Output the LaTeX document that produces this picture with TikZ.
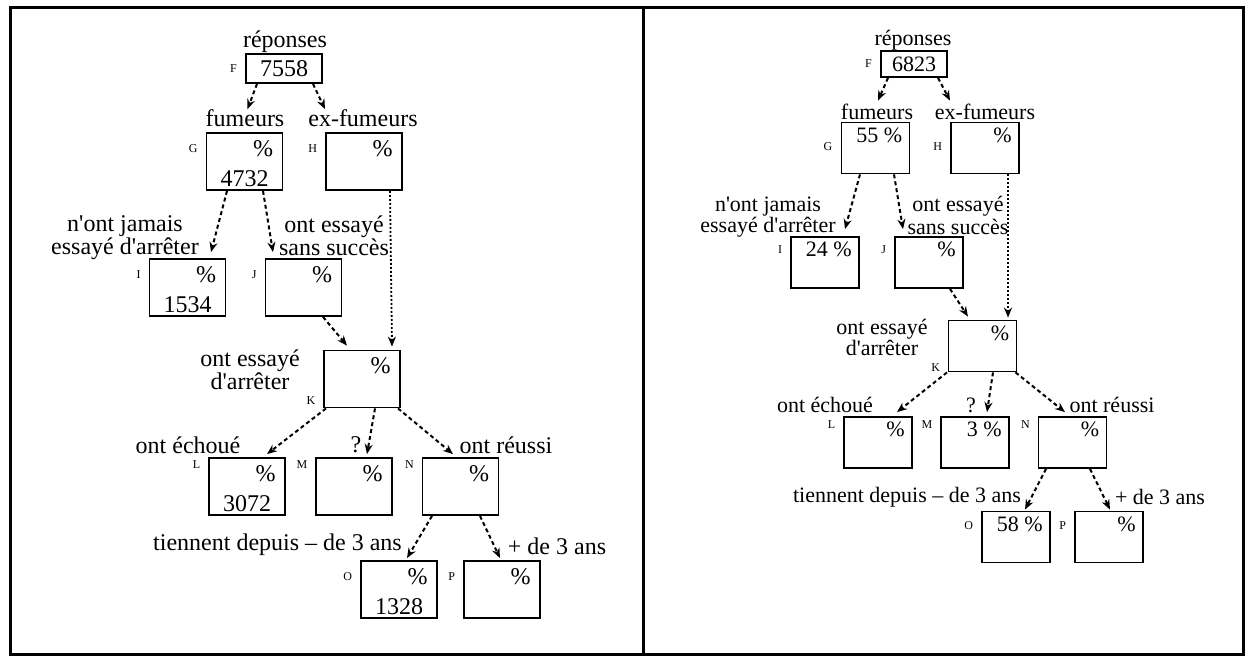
\documentclass[tikz,border=0pt]{standalone}
\usepackage{fontspec}
\setmainfont{Liberation Serif}[Ligatures=TeXOff]
\usetikzlibrary{arrows.meta,calc,positioning}
\tikzset{
  cell/.style={draw,line width=1.8pt,minimum width=76pt,minimum height=57pt,inner sep=0pt},
  rcell/.style={cell,minimum width=68pt,minimum height=51pt},
  topbox/.style={cell,minimum height=29pt},
  rtopbox/.style={cell,minimum width=66pt,minimum height=26pt},
  tag/.style={font=\fontsize{12}{12}\selectfont,inner sep=1pt},
  pc/.style={inner sep=0pt},
  arr/.style={dash pattern=on 4pt off 3pt,line width=2pt,-{Stealth[length=10pt,width=8pt]}},
  farr/.style={arr,dash pattern=on 2pt off 2pt,line width=1.8pt},
}
\begin{document}
\begin{tikzpicture}[x=1pt,y=-1pt,font=\fontsize{24}{23}\selectfont]
\useasboundingbox (0,0) rectangle (1247,656);
\draw[line width=3pt] (10,7) rectangle (1243,654) (643,7) -- (643,654);

% left panel
\node[topbox,label={[tag,label distance=7pt]180:F}] (lF) at (284,68.5) {7558};
\foreach \n/\x/\y/\a/\t/\b in {G/244.5/161.5/170/\%/4732,H/364/161.5/170/\%/{},
    I/187.5/287.5/170/\%/1534,J/303.5/287.5/170/\%/{},K/362/379/200/\%/{},
    L/247/486.5/160/\%/3072,M/354/486.5/160/\%/{},N/460.5/486.5/160/\%/{},
    O/399/589.5/170/\%/1328,P/502/589.5/170/\%/{}}{
  \node[cell,label={[tag,label distance=7pt]\a:\n}] (l\n) at (\x,\y) {};
  \node[pc,anchor=north east] (l\n-t) at ([shift={(-10,8)}]l\n.north east) {\t};
  \node (l\n-b) at ([shift={(0,-12)}]l\n.south) {\b};
}
\node (lRep) at (285,42) {réponses};
\node (lFum) at (245,118) {fumeurs};
\node (lExf) at (363,118) {ex-fumeurs};
\node[align=center] (lNever) at (125,238) {n'ont jamais\\essayé d'arrêter};
\node[align=center] (lTried) at (334,236) {ont essayé\\sans succès};
\node[align=center] (lStop) at (250,370) {ont essayé\\d'arrêter};
\node (lFail) at (188,445) {ont échoué};
\node (lQ) at (356,445) {?};
\node (lSucc) at (506,445) {ont réussi};
\node (lLess) at (277.5,545) {tiennent depuis – de 3 ans};
\node (lMore) at (557,546) {+ de 3 ans};

\draw[arr] ([shift={(-27,0)}]lF.south) -- ([shift={(3,-23)}]lG.north);
\draw[arr] ([shift={(29,0)}]lF.south) -- ([shift={(-39,-23)}]lH.north);
\draw[arr] ([shift={(-17.5,0)}]lG.south) -- ([shift={(23.5,-6)}]lI.north);
\draw[arr] ([shift={(18.5,0)}]lG.south) -- ([shift={(-30.5,-6)}]lJ.north);
\draw[farr] ([shift={(26,0)}]lH.south) -- ([shift={(30,-3)}]lK.north);
\draw[arr] ([shift={(19.5,0)}]lJ.south) -- ([shift={(-15,-4)}]lK.north);
\draw[arr] ([shift={(-36,0)}]lK.south) -- ([shift={(20,-3)}]lL.north);
\draw[arr] ([shift={(13,0)}]lK.south) -- ([shift={(13,-3)}]lM.north);
\draw[arr] ([shift={(36,0)}]lK.south) -- ([shift={(-7.5,-3)}]lN.north);
\draw[arr] ([shift={(-28.5,0)}]lN.south) -- ([shift={(8,-2)}]lO.north);
\draw[arr] ([shift={(19.5,0)}]lN.south) -- ([shift={(-2,-2)}]lP.north);

% right panel
\begin{scope}[font=\fontsize{22}{21}\selectfont]
\node[rtopbox,label={[tag,label distance=7pt]180:F}] (rF) at (914,64) {6823};
\foreach \n/\x/\y/\a/\t in {G/875.5/148/178/55 \%,H/985/148/178/\%,
    I/825/262.5/170/24 \%,J/929/262.5/170/\%,K/982.5/346/202/\%,
    L/878/442.5/163/\%,M/975/442.5/163/3 \%,N/1072.5/442.5/163/\%,
    O/1016/537/172/58 \%,P/1109/537/172/\%}{
  \node[rcell,label={[tag,label distance=7pt]\a:\n}] (r\n) at (\x,\y) {};
  \node[pc,anchor=north east] (r\n-t) at ([shift={(-8,6)}]r\n.north east) {\t};
}
\node (rRep) at (913,40) {réponses};
\node (rFum) at (877,112) {fumeurs};
\node (rExf) at (985,112) {ex-fumeurs};
\node[align=center] (rNever) at (768,217.5) {n'ont jamais\\essayé d'arrêter};
\node[align=center,font=\fontsize{22}{23}\selectfont] (rTried) at (958,215.5) {ont essayé\\sans succès};
\node[align=center] (rStop) at (882,337.5) {ont essayé\\d'arrêter};
\node (rFail) at (825,405) {ont échoué};
\node (rQ) at (971,405) {?};
\node (rSucc) at (1112,405) {ont réussi};
\node (rLess) at (907,497) {tiennent depuis – de 3 ans};
\node (rMore) at (1160,497) {+ de 3 ans};
\end{scope}

\draw[arr] ([shift={(-26,0)}]rF.south) -- ([shift={(2.5,-21)}]rG.north);
\draw[arr] ([shift={(24,0)}]rF.south) -- ([shift={(-35,-21)}]rH.north);
\draw[arr] ([shift={(-15.5,0)}]rG.south) -- ([shift={(20,-7)}]rI.north);
\draw[arr] ([shift={(18.5,0)}]rG.south) -- ([shift={(-26,-7)}]rJ.north);
\draw[farr] ([shift={(23,0)}]rH.south) -- ([shift={(25.5,-2)}]rK.north);
\draw[arr] ([shift={(21,0)}]rJ.south) -- ([shift={(-14.5,-3)}]rK.north);
\draw[arr] ([shift={(-35.5,0)}]rK.south) -- ([shift={(19,-4)}]rL.north);
\draw[arr] ([shift={(10.5,0)}]rK.south) -- ([shift={(12,-4)}]rM.north);
\draw[arr] ([shift={(33,0)}]rK.south) -- ([shift={(-7.5,-4)}]rN.north);
\draw[arr] ([shift={(-26.5,0)}]rN.south) -- ([shift={(9,-1)}]rO.north);
\draw[arr] ([shift={(17.5,0)}]rN.south) -- ([shift={(1,-1)}]rP.north);
\end{tikzpicture}
\end{document}
